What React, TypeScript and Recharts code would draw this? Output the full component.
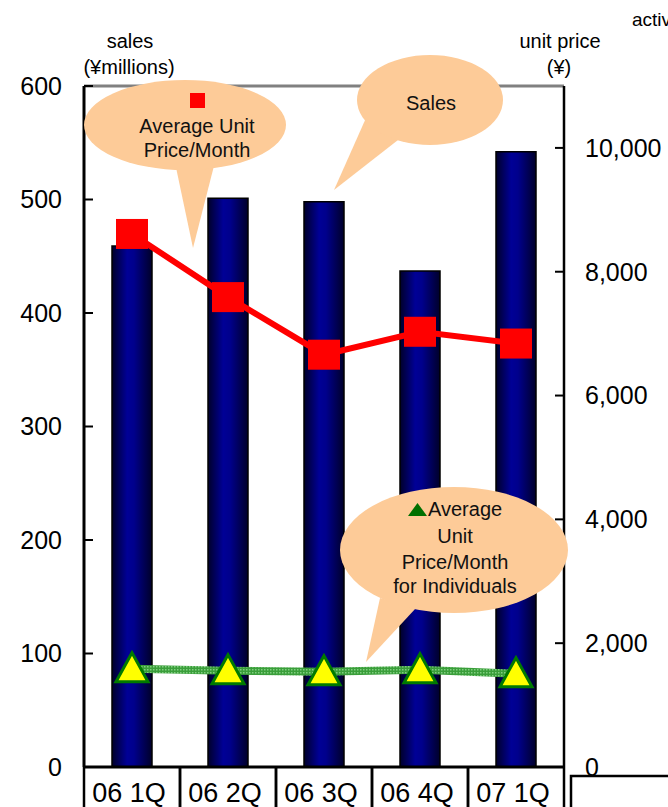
import React from 'react';
import { ComposedChart, Bar, Line, XAxis, YAxis, ReferenceLine } from 'recharts';

const categories = ['06 1Q', '06 2Q', '06 3Q', '06 4Q', '07 1Q'];
const salesMillions = [459, 501, 498, 437, 542];
const avgUnitPrice = [8610, 7590, 6660, 7030, 6840];
const avgUnitPriceIndividuals = [1586, 1554, 1538, 1570, 1506];
const leftTicks = [0, 100, 200, 300, 400, 500, 600];
const rightTicks = [0, 2000, 4000, 6000, 8000, 10000];

const data = categories.map((c, i) => ({
  name: c,
  sales: salesMillions[i],
  price: avgUnitPrice[i],
  indiv: avgUnitPriceIndividuals[i],
}));

const FONT = '"Liberation Sans", Arial, sans-serif';
const PEACH = '#FDCB98';

const SquareDot = (props: any) => {
  const { cx, cy } = props;
  if (cx == null || cy == null) return null;
  return <rect x={cx - 16} y={cy - 15} width={32} height={30} fill="#ff0000" />;
};

const TriangleDot = (props: any) => {
  const { cx, cy } = props;
  if (cx == null || cy == null) return null;
  return (
    <polygon
      points={`${cx},${cy - 16} ${cx - 16},${cy + 13} ${cx + 16},${cy + 13}`}
      fill="#ffff00"
      stroke="#007a00"
      strokeWidth={3}
    />
  );
};

const CatTick = (props: any) => {
  const { x, y, payload } = props;
  return (
    <g>
      <line x1={x - 48} y1={y} x2={x - 48} y2={y + 42} stroke="#000" strokeWidth={2.5} />
      <line x1={x + 48} y1={y} x2={x + 48} y2={y + 42} stroke="#000" strokeWidth={2.5} />
      <text x={x - 3} y={y + 35} textAnchor="middle" fontSize={27} fontFamily={FONT} fill="#000">
        {payload.value}
      </text>
    </g>
  );
};

const fmt = (v: number) => v.toLocaleString('en-US');

export default function App() {
  return (
    <div style={{ position: 'absolute', left: 0, top: 0, width: 668, height: 807, background: '#fff' }}>
      <ComposedChart
        width={668}
        height={807}
        data={data}
        margin={{ top: 86, right: 0, bottom: 0, left: 0 }}
      >
        <defs>
          <linearGradient id="barGrad" x1="0" y1="0" x2="1" y2="0">
            <stop offset="0%" stopColor="#00002a" />
            <stop offset="38%" stopColor="#000096" />
            <stop offset="55%" stopColor="#00008c" />
            <stop offset="100%" stopColor="#00002a" />
          </linearGradient>
          <pattern id="greenHatch" patternUnits="userSpaceOnUse" width="3" height="3">
            <rect x="0" y="0" width="3" height="3" fill="#3a9e3a" />
            <rect x="0" y="0" width="1.5" height="1.5" fill="#7fcf7f" />
          </pattern>
        </defs>
        <XAxis
          dataKey="name"
          height={40}
          tickSize={0}
          tickMargin={0}
          axisLine={{ stroke: '#000', strokeWidth: 3 }}
          tickLine={false}
          tick={<CatTick />}
          interval={0}
        />
        <YAxis
          yAxisId="left"
          orientation="left"
          width={84}
          domain={[0, 600]}
          ticks={leftTicks}
          allowDataOverflow
          axisLine={{ stroke: '#000', strokeWidth: 3 }}
          tickLine={{ stroke: '#000', strokeWidth: 2 }}
          tickSize={-9}
          tickMargin={31}
          tick={{ fill: '#000', fontSize: 25, fontFamily: FONT }}
        />
        <YAxis
          yAxisId="right"
          orientation="right"
          width={104}
          domain={[0, 11000]}
          ticks={rightTicks}
          allowDataOverflow
          tickFormatter={fmt}
          axisLine={{ stroke: '#000', strokeWidth: 2.5 }}
          tickLine={{ stroke: '#000', strokeWidth: 2 }}
          tickSize={-9}
          tickMargin={30}
          tick={{ fill: '#000', fontSize: 25, fontFamily: FONT, textAnchor: 'start' }}
        />
        <ReferenceLine yAxisId="left" y={600} stroke="#808080" strokeWidth={3} />
        <Bar
          yAxisId="left"
          dataKey="sales"
          barSize={40}
          fill="url(#barGrad)"
          stroke="#000"
          strokeWidth={1.5}
          isAnimationActive={false}
        />
        <Line
          yAxisId="right"
          dataKey="price"
          stroke="#ff0000"
          strokeWidth={6}
          dot={<SquareDot />}
          activeDot={false}
          isAnimationActive={false}
        />
        <Line
          yAxisId="right"
          dataKey="indiv"
          stroke="url(#greenHatch)"
          strokeWidth={8}
          dot={<TriangleDot />}
          activeDot={false}
          isAnimationActive={false}
        />
      </ComposedChart>
      <svg
        width={668}
        height={807}
        style={{ position: 'absolute', left: 0, top: 0, pointerEvents: 'none' }}
        fontFamily={FONT}
      >
        <text x={130} y={48} textAnchor="middle" fontSize={20} fill="#000">sales</text>
        <text x={129} y={74} textAnchor="middle" fontSize={20} fill="#000">(¥millions)</text>
        <text x={560} y={48} textAnchor="middle" fontSize={20} fill="#000">unit price</text>
        <text x={559} y={74} textAnchor="middle" fontSize={20} fill="#000">(¥)</text>
        <text x={632} y={26} fontSize={19} fill="#000">active</text>

        {/* Callout 1 */}
        <polygon points="174,158 216,158 193,248" fill={PEACH} />
        <ellipse cx={185} cy={125} rx={101} ry={45} fill={PEACH} />
        <rect x={190} y={93} width={15} height={15} fill="#ff0000" />
        <text x={197} y={133} textAnchor="middle" fontSize={20} fill="#111">Average Unit</text>
        <text x={197} y={157} textAnchor="middle" fontSize={20} fill="#111">Price/Month</text>

        {/* Callout 2 */}
        <polygon points="366,118 398,140 334,190" fill={PEACH} />
        <ellipse cx={430} cy={100} rx={73} ry={45} fill={PEACH} />
        <text x={431} y={110} textAnchor="middle" fontSize={20} fill="#111">Sales</text>

        {/* Callout 3 */}
        <polygon points="380,598 416,608 366,662" fill={PEACH} />
        <ellipse cx={454} cy={550} rx={114} ry={63} fill={PEACH} />
        <polygon points="408,516 417.5,503 427,516" fill="#007000" />
        <text x={428} y={516} fontSize={20} fill="#111">Average</text>
        <text x={455} y={543} textAnchor="middle" fontSize={20} fill="#111">Unit</text>
        <text x={455} y={569} textAnchor="middle" fontSize={20} fill="#111">Price/Month</text>
        <text x={455} y={593} textAnchor="middle" fontSize={20} fill="#111">for Individuals</text>

        {/* Partial box bottom right */}
        <rect x={571} y={776} width={200} height={100} fill="none" stroke="#000" strokeWidth={2.5} />
        <text x={585} y={826} fontSize={22} fill="#000">Active</text>
      </svg>
    </div>
  );
}
